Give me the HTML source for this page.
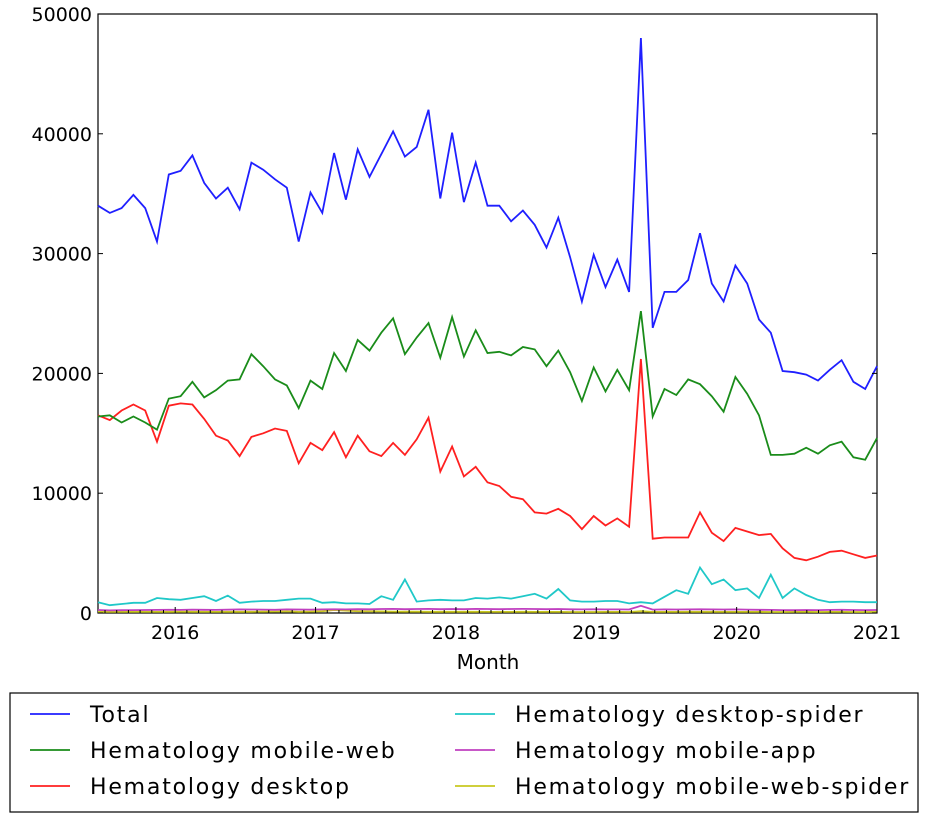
<!DOCTYPE html>
<html><head><meta charset="utf-8"><style>
body{margin:0;background:#fff;font-family:"Liberation Sans","DejaVu Sans",sans-serif}
svg text{font-family:"DejaVu Sans","Liberation Sans",sans-serif;fill:#000}
</style></head><body>
<svg id="chart" width="928" height="817">
<rect x="98" y="14" width="779" height="599" fill="#fff" stroke="#000" stroke-width="1.2"/>
<g id="series"></g><g id="axes"></g>
<text x="488" y="669" font-size="20" text-anchor="middle">Month</text>
<rect x="10" y="693" width="908" height="119" fill="#fff" stroke="#000" stroke-width="1.2"/>
<g id="legend"></g>
</svg>
<script>
const seriesNames=["Total","Hematology mobile-web","Hematology desktop","Hematology desktop-spider","Hematology mobile-app","Hematology mobile-web-spider"];
const seriesColors=["#1f1fff","#1a8c1a","#ff2020","#20c8c8","#c040c0","#c8c820"];
const totalVals=[34000,33400,33800,34900,33800,31000,36600,36900,38200,35900,34600,35500,33700,37600,37000,36200,35500,31000,35100,33400,38400,34500,38700,36400,38300,40200,38100,38900,42000,34600,40100,34300,37600,34000,34000,32700,33600,32400,30500,33000,29700,26000,29900,27200,29500,26800,48000,23800,26800,26800,27800,31700,27500,26000,29000,27500,24500,23400,20200,20100,19900,19400,20300,21100,19300,18700,20600];
const mobileWebVals=[16400,16500,15900,16400,15900,15300,17900,18100,19300,18000,18600,19400,19500,21600,20600,19500,19000,17100,19400,18700,21700,20200,22800,21900,23400,24600,21600,23000,24200,21300,24700,21400,23600,21700,21800,21500,22200,22000,20600,21900,20100,17700,20500,18500,20300,18600,25200,16400,18700,18200,19500,19100,18100,16800,19700,18300,16500,13200,13200,13300,13800,13300,14000,14300,13000,12800,14600];
const desktopVals=[16500,16100,16900,17400,16900,14300,17300,17500,17400,16200,14800,14400,13100,14700,15000,15400,15200,12500,14200,13600,15100,13000,14800,13500,13100,14200,13200,14500,16300,11800,13900,11400,12200,10900,10600,9700,9500,8400,8300,8700,8100,7000,8100,7300,7900,7200,21200,6200,6300,6300,6300,8400,6700,6000,7100,6800,6500,6600,5400,4600,4400,4700,5100,5200,4900,4600,4800];
const desktopSpiderVals=[900,650,750,850,850,1250,1150,1100,1250,1400,1000,1450,850,950,1000,1000,1100,1200,1200,850,900,800,800,750,1400,1100,2800,950,1050,1100,1050,1050,1250,1200,1300,1200,1400,1600,1200,2000,1050,950,950,1000,1000,800,900,800,1350,1900,1600,3800,2400,2800,1900,2050,1250,3200,1250,2050,1500,1100,900,950,950,900,900];
const mobileAppVals=[250,220,230,240,250,260,270,260,280,270,260,280,300,290,280,270,300,290,280,300,310,300,320,310,330,340,320,330,340,320,330,320,340,330,320,330,340,330,320,330,310,300,310,300,300,290,600,280,300,290,300,310,300,290,300,280,270,260,240,230,250,240,260,270,250,240,250];
const mobileWebSpiderVals=[100,90,90,100,100,90,100,110,100,100,90,100,100,100,110,120,130,100,120,150,250,200,150,140,130,120,110,110,100,100,100,100,100,90,90,90,100,90,90,90,80,80,80,90,90,80,150,90,90,90,100,100,100,90,90,90,90,80,80,90,90,80,90,90,80,80,90];
const yTicks=[0,10000,20000,30000,40000,50000];
const xTickLabels=["2016","2017","2018","2019","2020","2021"];
const allSeries=[totalVals,mobileWebVals,desktopVals,desktopSpiderVals,mobileAppVals,mobileWebSpiderVals];

const X0=98,X1=877,Y0=613,Y1=14;
const mStart=-6.6,mEnd=60;
function xMonth(m){return X0+(m-mStart)/(mEnd-mStart)*(X1-X0);}
function xIdx(i,n){return xMonth(mStart+i*(mEnd-mStart)/(n-1));}
function yScale(v){return Y0-v/50000*(Y0-Y1);}
const NS="http://www.w3.org/2000/svg";
const sg=document.getElementById('series'),ag=document.getElementById('axes'),lg=document.getElementById('legend');
for(let s=allSeries.length-1;s>=0;s--){
  const vals=allSeries[s];
  const p=document.createElementNS(NS,'polyline');
  p.setAttribute('points',vals.map((v,i)=>xIdx(i,vals.length).toFixed(1)+','+yScale(v).toFixed(1)).join(' '));
  p.setAttribute('fill','none');p.setAttribute('stroke',seriesColors[s]);p.setAttribute('stroke-width','1.8');
  
  
  sg.appendChild(p);
}
yTicks.forEach(t=>{
  const y=yScale(t);
  const l=document.createElementNS(NS,'line');
  l.setAttribute('x1',X0);l.setAttribute('x2',X0+5);l.setAttribute('y1',y);l.setAttribute('y2',y);l.setAttribute('stroke','#000');
  
  
  ag.appendChild(l);
  const l2=l.cloneNode();l2.setAttribute('x1',X1);l2.setAttribute('x2',X1-5);
  
  ag.appendChild(l2);
  const tx=document.createElementNS(NS,'text');
  tx.setAttribute('x',X0-6);tx.setAttribute('y',y+7);tx.setAttribute('text-anchor','end');tx.setAttribute('font-size','19');
  tx.textContent=t;
  
  
  ag.appendChild(tx);
});
for(let m=-6;m<=60;m++){
  const x=xMonth(m);if(x<X0||x>X1)continue;
  const major=(m%12===0);
  const l=document.createElementNS(NS,'line');
  l.setAttribute('x1',x);l.setAttribute('x2',x);l.setAttribute('y1',Y0);l.setAttribute('y2',Y0-(major?6:3));l.setAttribute('stroke','#000');
  
  
  ag.appendChild(l);
}
xTickLabels.forEach((lab,k)=>{
  const tx=document.createElementNS(NS,'text');
  tx.setAttribute('x',xMonth(k*12));tx.setAttribute('y',639);tx.setAttribute('text-anchor','middle');tx.setAttribute('font-size','19');
  tx.textContent=lab;
  
  
  ag.appendChild(tx);
});
seriesNames.forEach((n,i)=>{
  const col=i<3?0:1,row=i%3;
  const lx=col?455:30,y=714+row*36;
  const l=document.createElementNS(NS,'line');
  l.setAttribute('x1',lx);l.setAttribute('x2',lx+40);l.setAttribute('y1',y);l.setAttribute('y2',y);l.setAttribute('stroke',seriesColors[i]);l.setAttribute('stroke-width','1.8');
  
  
  lg.appendChild(l);
  const tx=document.createElementNS(NS,'text');
  tx.setAttribute('x',lx+60);tx.setAttribute('y',y+8);tx.setAttribute('font-size','22');tx.setAttribute('letter-spacing','1.8');
  tx.textContent=n;
  
  
  lg.appendChild(tx);
});
</script>
</body></html>
